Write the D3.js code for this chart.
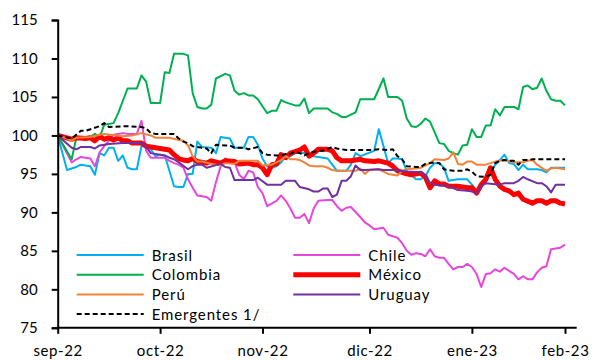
<!DOCTYPE html>
<html><head><meta charset="utf-8">
<script src="https://cdn.jsdelivr.net/npm/d3@7/dist/d3.min.js"></script>
<style>
html,body{margin:0;padding:0;background:#fff;}
svg{display:block;}
text{font-family:Lato,"Open Sans",sans-serif;fill:#000;}
</style></head>
<body>
<svg id="chart" width="596" height="360"></svg>
<script>
// ---- data (day index, value), base 100 ----
const tickLabels = ["sep-22","oct-22","nov-22","dic-22","ene-23","feb-23"];
const tickIndex = [0,22,44,67,89,109];
const yTicks = [75,80,85,90,95,100,105,110,115];

const brasil = [[0,100],[2,95.5],[4,95.9],[5,96.2],[7,96.0],[8,94.9],[9,97.7],[10,97.4],[11,98.4],[12,98.4],[13,96.7],[14,97.4],[15,95.8],[16,95.6],[17,95.6],[18,98.6],[19,98.7],[20,98.2],[21,97.3],[22,97.5],[23,97.4],[24,95.4],[25,93.4],[26,93.3],[27,93.3],[28,95.0],[29,95.0],[30,99.2],[31,98.5],[33,98.4],[34,97.7],[35,99.8],[37,99.6],[38,98.4],[40,98.4],[41,99.8],[42,99.8],[43,98.8],[44,97.0],[45,96.0],[46,95.8],[47,96.0],[48,96.5],[49,97.3],[50,97.3],[51,97.7],[53,97.7],[54,97.5],[55,97.3],[57,97.1],[58,97.0],[59,96.2],[60,95.4],[62,95.4],[63,96.2],[64,97.7],[65,97.3],[68,98.0],[69,100.8],[71,96.4],[72,97.0],[73,97.0],[74,96.9],[75,95.4],[77,94.3],[78,94.3],[79,94.7],[80,95.8],[81,96.4],[82,96.4],[83,95.8],[84,94.1],[86,94.3],[88,94.3],[89,93.6],[90,92.8],[91,93.6],[92,94.1],[94,96.2],[95,96.8],[96,97.5],[97,96.4],[98,96.3],[99,95.5],[100,96.2],[101,95.6],[103,95.6],[104,95.5],[105,95.2],[106,95.8],[109,95.8]];

const chile = [[0,100],[3,96.5],[4,96.9],[5,97.2],[7,97.0],[8,96.0],[9,97.8],[10,98.6],[11,99.3],[12,100.1],[14,100.3],[15,100.2],[17,100.2],[18,101.9],[19,98.0],[20,97.1],[23,97.1],[24,96.7],[25,96.4],[26,96.2],[27,95.8],[28,94.3],[29,93.2],[30,92.2],[32,92.0],[33,91.5],[34,93.9],[35,96.0],[36,97.0],[37,96.7],[38,96.5],[39,94.9],[40,94.3],[41,95.4],[42,95.2],[43,93.3],[44,92.5],[45,90.8],[47,91.5],[48,92.2],[49,91.5],[50,90.5],[51,89.3],[52,89.3],[53,89.8],[54,88.6],[55,90.5],[56,91.5],[58,91.6],[59,91.6],[60,90.8],[61,90.2],[62,90.6],[63,90.7],[65,89.4],[66,88.7],[67,88.3],[68,87.8],[70,88.0],[71,87.1],[72,86.9],[73,86.7],[74,86.0],[75,85.0],[76,84.5],[77,84.7],[78,84.6],[79,84.3],[80,85.2],[81,84.3],[82,84.1],[83,84.1],[84,83.3],[85,82.6],[86,82.9],[87,82.9],[88,83.3],[89,82.9],[90,82.0],[91,80.3],[92,82.0],[93,82.1],[94,82.6],[95,82.3],[96,82.8],[97,82.4],[98,82.0],[99,81.3],[100,81.7],[101,81.3],[102,81.3],[103,82.2],[104,82.8],[105,83.0],[106,85.2],[107,85.3],[108,85.4],[109,85.8]];

const colombia = [[0,100],[3,96.9],[4,99.7],[7,99.8],[8,100.2],[9,99.7],[10,101.4],[12,101.6],[13,102.9],[15,106.1],[17,106.1],[18,107.8],[19,107.0],[20,104.2],[22,104.2],[23,108.2],[24,108.1],[25,110.6],[27,110.6],[28,110.4],[29,105.5],[30,103.7],[31,103.5],[32,103.5],[33,104.0],[34,107.4],[36,108.0],[37,107.8],[38,105.8],[39,105.3],[40,105.5],[41,105.2],[42,105.2],[43,104.7],[44,103.8],[45,102.9],[46,103.2],[47,103.2],[48,104.6],[49,104.3],[50,104.1],[51,103.9],[52,103.9],[53,104.8],[54,102.9],[55,103.5],[56,103.5],[58,103.5],[59,103.0],[60,102.8],[61,102.4],[62,102.4],[63,102.7],[64,103.0],[65,104.7],[68,104.7],[70,107.4],[71,105.0],[73,105.0],[74,104.5],[75,102.2],[76,101.2],[77,101.1],[78,101.5],[79,102.2],[80,101.8],[82,99.0],[83,98.9],[84,98.0],[85,97.7],[86,97.5],[87,98.7],[88,98.8],[89,100.8],[90,99.8],[91,99.8],[92,101.3],[93,101.3],[94,103.4],[95,102.6],[96,103.7],[98,103.7],[99,103.4],[100,106.3],[101,106.5],[102,106.0],[103,106.2],[104,107.4],[105,105.8],[106,104.7],[107,104.5],[108,104.5],[109,103.9]];

const mexico = [[0,100],[3,99.5],[4,99.7],[6,99.6],[7,99.7],[8,99.3],[9,99.9],[10,99.5],[11,99.7],[12,99.4],[13,99.7],[14,99.3],[15,99.3],[16,99.0],[18,99.0],[19,98.6],[20,98.5],[22,98.3],[24,98.1],[25,97.5],[26,97.0],[27,96.8],[28,96.7],[29,97.0],[30,96.6],[32,96.4],[33,96.7],[35,96.4],[36,96.7],[38,96.6],[39,96.3],[41,96.4],[42,96.2],[43,96.2],[44,95.8],[45,94.9],[46,96.2],[47,96.3],[48,97.5],[49,97.1],[50,97.7],[52,98.1],[53,98.5],[54,97.3],[55,97.7],[56,98.2],[58,98.2],[59,98.0],[60,97.1],[61,96.7],[63,96.7],[65,96.9],[66,96.7],[68,96.6],[69,96.7],[71,96.4],[72,96.0],[73,95.4],[74,95.2],[75,95.0],[76,94.9],[78,95.1],[79,94.6],[80,93.2],[81,94.1],[82,93.7],[83,93.7],[84,93.4],[86,93.4],[87,93.3],[88,93.2],[89,93.2],[90,92.5],[91,93.6],[92,94.3],[93,95.8],[94,94.3],[95,93.4],[96,93.0],[97,92.8],[98,92.3],[99,92.5],[100,91.7],[102,91.2],[103,91.5],[104,91.5],[105,91.2],[106,91.5],[107,91.5],[108,91.2],[109,91.1]];

const peru = [[0,100],[2,99.6],[3,99.3],[4,99.7],[7,99.8],[10,100.2],[14,99.9],[16,100.0],[18,100.3],[20,100.0],[21,99.7],[24,99.7],[26,99.4],[27,99.3],[28,98.7],[29,97.3],[30,96.6],[31,96.6],[33,96.3],[35,96.1],[36,96.4],[38,96.3],[39,96.7],[43,96.7],[44,96.1],[45,96.2],[46,96.2],[48,96.8],[49,97.3],[50,96.9],[51,96.9],[52,96.8],[53,96.5],[54,96.1],[55,96.0],[57,96.0],[58,95.8],[59,95.5],[60,95.4],[64,95.4],[65,95.7],[66,95.0],[67,95.5],[69,95.6],[71,95.0],[72,94.9],[73,94.8],[74,95.4],[75,95.6],[77,95.7],[78,95.8],[80,96.4],[81,96.9],[83,96.8],[84,97.0],[85,97.8],[86,96.3],[87,96.2],[88,96.6],[89,96.6],[90,96.2],[92,96.2],[94,96.6],[96,96.8],[98,96.5],[100,96.5],[101,96.7],[102,96.8],[103,96.2],[105,95.4],[106,95.7],[107,95.8],[109,95.6]];

const uruguay = [[0,100],[3,98.4],[4,98.2],[5,98.5],[7,98.5],[8,98.3],[9,98.7],[11,98.9],[14,99.0],[18,99.0],[19,98.5],[20,97.7],[23,97.4],[24,97.1],[25,96.9],[26,96.5],[28,95.6],[29,96.0],[30,96.2],[31,96.2],[32,95.8],[35,96.3],[36,95.9],[37,95.8],[38,94.2],[42,94.2],[43,94.5],[45,93.6],[48,93.6],[49,94.1],[51,94.1],[52,93.3],[54,93.0],[55,92.7],[56,92.7],[57,93.1],[58,93.1],[59,92.0],[60,92.3],[61,94.1],[62,94.1],[63,94.7],[64,96.1],[65,95.5],[66,95.5],[69,95.6],[70,95.5],[72,95.5],[75,95.3],[78,95.2],[79,94.8],[80,93.8],[81,93.6],[84,93.4],[86,92.9],[88,92.8],[89,92.7],[90,92.5],[91,93.4],[92,93.8],[95,93.6],[96,93.8],[98,93.8],[99,94.1],[100,94.6],[101,94.3],[103,93.8],[104,93.8],[105,93.4],[106,92.6],[107,93.6],[109,93.6]];

const emergentes = [[0,100],[3,99.6],[5,100.6],[6,100.6],[9,101.2],[10,101.6],[11,101.1],[15,101.2],[18,101.1],[19,100.9],[20,100.3],[21,100.2],[23,100.2],[25,100.2],[26,99.6],[27,99.2],[28,99.0],[29,98.6],[30,98.5],[32,98.3],[33,97.7],[34,98.8],[36,98.7],[37,98.7],[38,98.4],[40,98.4],[41,98.2],[43,98.5],[44,97.7],[45,97.5],[47,97.4],[48,97.4],[49,97.6],[50,97.6],[51,97.9],[52,97.7],[53,97.4],[54,97.7],[56,98.0],[57,98.0],[59,98.5],[60,98.3],[62,98.1],[65,98.1],[67,98.1],[69,98.2],[71,98.1],[72,98.2],[73,97.3],[74,96.9],[75,96.0],[77,95.9],[78,95.9],[79,96.3],[81,96.5],[82,96.4],[83,95.6],[85,95.4],[87,95.4],[88,95.6],[89,95.3],[90,94.7],[92,94.6],[93,94.9],[94,96.4],[95,96.7],[96,96.8],[97,96.7],[98,96.7],[99,96.2],[100,96.8],[101,96.8],[102,96.9],[105,96.9],[109,96.9]];

const seriesNames = ["Brasil","Chile","Colombia","México","Perú","Uruguay","Emergentes 1/"];
const seriesData = [brasil, chile, colombia, mexico, peru, uruguay, emergentes];
const seriesColors = ["#00B0F0","#E646DC","#00B050","#FF0000","#F0833A","#7030A0","#000000"];
const seriesWidths = [2, 2, 2, 5, 2, 2, 2];
const seriesDash = [null,null,null,null,null,null,"5,3"];

// ---- layout ----
const svg = d3.select("#chart");
svg.append("rect").attr("width",596).attr("height",360).attr("fill","#fff");

const x = d3.scaleLinear().domain([0,109]).range([57.7,565]);
const y = d3.scaleLinear().domain([75,115]).range([327.8,20]);
const axisRight = 576.7;

// lines
const line = d3.line().x(d=>x(d[0])).y(d=>y(d[1])).curve(d3.curveLinear);
const g = svg.append("g");
seriesData.forEach((data,i)=>{
  g.append("path").datum(data)
    .attr("d",line)
    .attr("fill","none")
    .attr("stroke",seriesColors[i])
    .attr("stroke-width",seriesWidths[i])
    .attr("stroke-linejoin","round")
    .attr("stroke-dasharray",seriesDash[i]);
});

// y axis
const yAxis = d3.axisLeft(y).tickValues(yTicks).tickSize(6).tickPadding(14).tickFormat(d3.format("d"));
const ya = svg.append("g").attr("transform",`translate(${x(0)},0)`).call(yAxis);
ya.select(".domain").attr("stroke","#000").attr("stroke-width",2);
ya.selectAll(".tick line").attr("stroke","#000").attr("stroke-width",2);
ya.selectAll(".tick text").attr("font-size",15).attr("font-family","Lato,'Open Sans',sans-serif").attr("fill","#000");

// x axis
const xAxis = d3.axisBottom(x).tickValues(tickIndex).tickSize(6).tickPadding(12)
  .tickFormat((d,i)=>tickLabels[i]);
const xa = svg.append("g").attr("transform",`translate(0,${y(75)})`).call(xAxis);
xa.select(".domain").remove();
xa.append("line").attr("x1",x(0)-1).attr("x2",axisRight).attr("y1",0).attr("y2",0)
  .attr("stroke","#000").attr("stroke-width",2);
xa.selectAll(".tick line").attr("stroke","#000").attr("stroke-width",2);
xa.selectAll(".tick text").attr("font-size",15).attr("font-family","Lato,'Open Sans',sans-serif")
  .attr("fill","#000").attr("letter-spacing",0.6);

// legend
const legCols = [76.7, 293.3];
const legRows = [255, 274.7, 294.4, 314.1];
const legLineLen = 67;
const leg = svg.append("g");
seriesNames.forEach((name,i)=>{
  const col = i===6 ? 0 : i%2;
  const row = i===6 ? 3 : Math.floor(i/2);
  const lx = legCols[col], ly = legRows[row];
  leg.append("line").attr("x1",lx).attr("x2",lx+legLineLen).attr("y1",ly).attr("y2",ly)
    .attr("stroke",seriesColors[i]).attr("stroke-width",seriesWidths[i])
    .attr("stroke-dasharray",seriesDash[i]);
  leg.append("text").attr("x",lx+legLineLen+8).attr("y",ly+5.5)
    .attr("font-size",15).attr("letter-spacing",0.9).text(name);
});
</script>
</body></html>
